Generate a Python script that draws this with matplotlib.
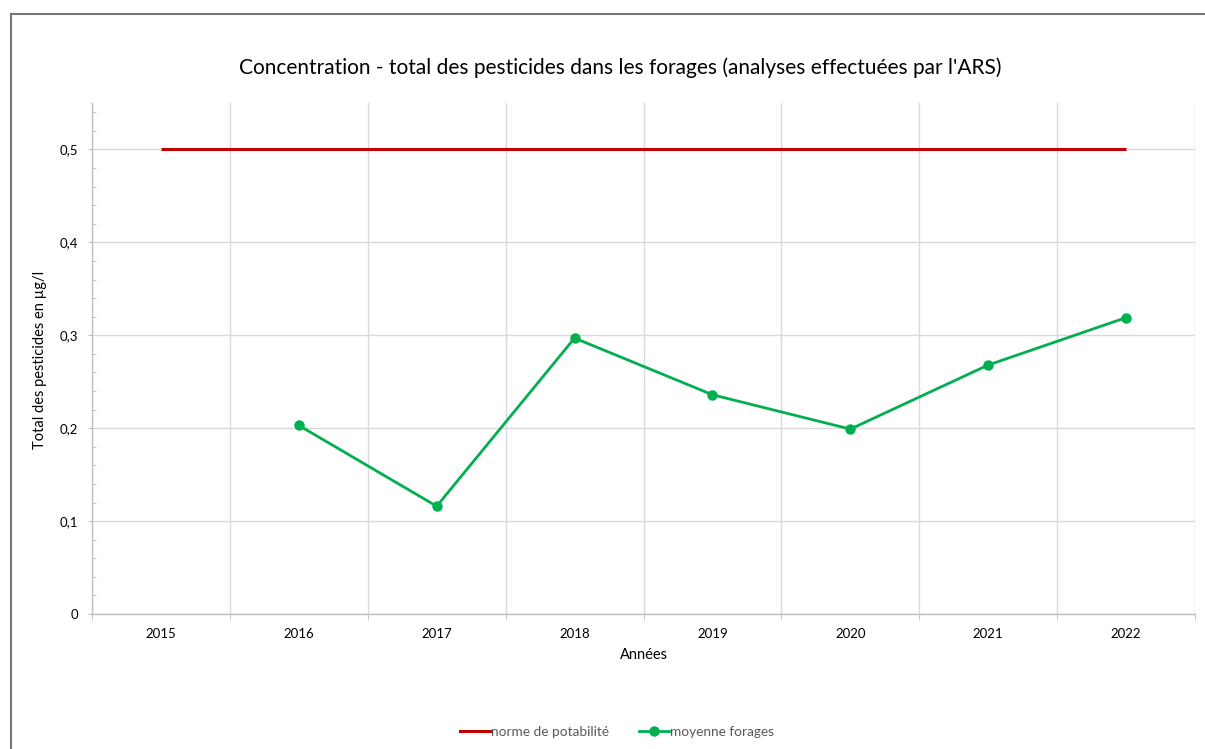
import numpy as np
import matplotlib
matplotlib.use("Agg")
import matplotlib.pyplot as plt
from matplotlib.ticker import MultipleLocator, FuncFormatter
from matplotlib.lines import Line2D

plt.rcParams['font.family'] = ['Lato', 'DejaVu Sans']

annees = ['2015', '2016', '2017', '2018', '2019', '2020', '2021', '2022']
norme = [0.5, 0.5, 0.5, 0.5, 0.5, 0.5, 0.5, 0.5]
moyenne = [np.nan, 0.203, 0.116, 0.297, 0.236, 0.199, 0.268, 0.319]

W, H = 1205, 749
fig = plt.figure(figsize=(W / 100, H / 100), dpi=100)
ax = fig.add_axes([92 / W, (H - 614) / H, (1195 - 92) / W, (614 - 103) / H])

x = np.arange(len(annees))
ax.plot(x, norme, color='#C00000', lw=2.2, solid_capstyle='butt', label='norme de potabilité', zorder=3)
ax.plot(x, moyenne, color='#00B050', lw=2.0, marker='o', ms=6.5, label='moyenne forages', zorder=4)

ax.set_xlim(-0.5, len(annees) - 0.5)
ax.set_ylim(0, 0.55)
ax.set_xticks(x)
ax.set_xticklabels(annees)
ax.set_xticks(np.arange(-0.5, len(annees)), minor=True)
ax.yaxis.set_major_locator(MultipleLocator(0.1))
ax.yaxis.set_minor_locator(MultipleLocator(0.02))
ax.yaxis.set_major_formatter(FuncFormatter(lambda v, p: ('%g' % round(v, 2)).replace('.', ',')))

ax.grid(False)
ax.grid(axis='y', which='major', color='#D9D9D9', lw=1)
ax.grid(axis='x', which='minor', color='#D9D9D9', lw=1)
for s in ['top', 'right']:
    ax.spines[s].set_visible(False)
for s in ['left', 'bottom']:
    ax.spines[s].set_color('#BFBFBF')
    ax.spines[s].set_linewidth(1)

ax.tick_params(axis='x', which='major', length=0, labelsize=9.5, pad=10, colors='#000000')
ax.tick_params(axis='x', which='minor', length=4, direction='out', color='#BFBFBF')
ax.tick_params(axis='y', which='major', length=3, direction='out', labelsize=9.5, pad=7, color='#BFBFBF')
ax.tick_params(axis='y', which='minor', length=3, direction='in', color='#BFBFBF')

ax.set_xlabel('Années', fontsize=10.5, labelpad=6)
fig.text(40 / W, 1 - 360 / H, 'Total des pesticides en µg/l', rotation=90, fontsize=10.5,
         ha='center', va='center')
fig.text(620 / W, 1 - 68 / H, "Concentration - total des pesticides dans les forages (analyses effectuées par l'ARS)",
         fontsize=15, ha='center', va='center')

handles = [Line2D([], [], color='#C00000', lw=2.2),
           Line2D([], [], color='#00B050', lw=2.0, marker='o', ms=6.5)]
leg = fig.legend(handles, ['norme de potabilité', 'moyenne forages'], loc='center',
                 bbox_to_anchor=(617 / W, 1 - 732 / H), ncol=2, frameon=False,
                 fontsize=9.8, handlelength=2.2, handletextpad=0.1, columnspacing=2.2)
for t in leg.get_texts():
    t.set_color('#595959')

# chart frame (Excel-style), clipped by the image on right/bottom
fig.add_artist(Line2D([10.5 / W, 10.5 / W], [0, 1 - 14 / H], color='#767676', lw=1.5))
fig.add_artist(Line2D([10.5 / W, 1], [1 - 14 / H, 1 - 14 / H], color='#767676', lw=1.5))

fig.savefig('out.png', dpi=100)
